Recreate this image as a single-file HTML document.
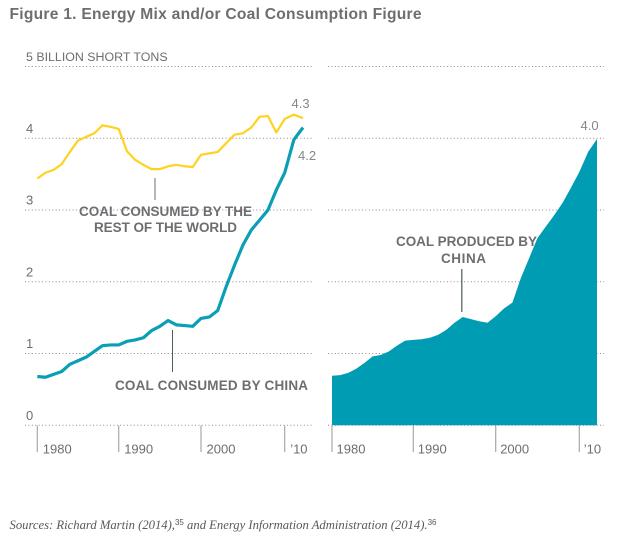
<!DOCTYPE html>
<html lang="en">
<head>
<meta charset="utf-8">
<title>Figure 1. Energy Mix and/or Coal Consumption Figure</title>
<style>
html,body{margin:0;padding:0;background:#fff;}
body{width:618px;height:540px;overflow:hidden;}
svg{display:block;font-family:"Liberation Sans",sans-serif;}
</style>
</head>
<body>
<svg id="chart" width="618" height="540" viewBox="0 0 618 540" xmlns="http://www.w3.org/2000/svg">
  <text x="9.5" y="19" font-size="15.6" font-weight="700" fill="#6d6e71" textLength="412" lengthAdjust="spacing">Figure 1. Energy Mix and/or Coal Consumption Figure</text>
  <g id="grid"></g>
  <g id="right-panel"></g>
  <g id="left-panel"></g>
  <g id="ticks"></g>
  <g id="y-labels"></g>

  <line x1="155" y1="178" x2="155" y2="200" stroke="#6a7274" stroke-width="1"/>
  <line x1="172.5" y1="330" x2="172.5" y2="372" stroke="#4f5c60" stroke-width="1"/>
  <line x1="461.8" y1="269" x2="461.8" y2="312" stroke="#4f5c60" stroke-width="1.2"/>

  <g font-size="13.5" font-weight="700" fill="#6d6e71">
    <text x="79" y="216" textLength="173" lengthAdjust="spacing">COAL CONSUMED BY THE</text>
    <text x="94" y="232" textLength="143" lengthAdjust="spacing">REST OF THE WORLD</text>
    <text x="115" y="390" textLength="193" lengthAdjust="spacing">COAL CONSUMED BY CHINA</text>
    <text x="396" y="246" textLength="141" lengthAdjust="spacing">COAL PRODUCED BY</text>
    <text x="441" y="263" textLength="45" lengthAdjust="spacing">CHINA</text>
  </g>

  <g font-size="13" fill="#858688">
    <text x="291.5" y="108">4.3</text>
    <text x="298" y="160">4.2</text>
    <text x="580.5" y="130">4.0</text>
  </g>

  <text x="9.5" y="529" font-family="'Liberation Serif',serif" font-style="italic" font-size="12.65" fill="#58595b">Sources: Richard Martin (2014),<tspan font-family="'Liberation Sans',sans-serif" font-style="normal" font-size="8" dy="-4">35</tspan><tspan dy="4"> and Energy Information Administration (2014).</tspan><tspan font-family="'Liberation Sans',sans-serif" font-style="normal" font-size="8" dy="-4">36</tspan></text>
</svg>

<script>
const years = [1980,1981,1982,1983,1984,1985,1986,1987,1988,1989,1990,1991,1992,1993,1994,1995,1996,1997,1998,1999,2000,2001,2002,2003,2004,2005,2006,2007,2008,2009,2010,2011,2012];
const restOfWorldConsumed = [3.44,3.52,3.56,3.64,3.81,3.97,4.02,4.07,4.18,4.16,4.13,3.82,3.70,3.63,3.57,3.57,3.61,3.63,3.61,3.60,3.77,3.79,3.81,3.93,4.05,4.07,4.15,4.30,4.31,4.08,4.27,4.33,4.28];
const chinaConsumed = [0.68,0.67,0.71,0.75,0.85,0.90,0.95,1.03,1.11,1.12,1.12,1.17,1.19,1.22,1.32,1.38,1.46,1.40,1.39,1.38,1.49,1.51,1.60,1.93,2.23,2.51,2.72,2.86,3.00,3.28,3.52,3.98,4.15];
const chinaProduced = [0.69,0.70,0.73,0.79,0.87,0.96,0.98,1.03,1.11,1.18,1.19,1.20,1.22,1.26,1.33,1.43,1.51,1.48,1.45,1.43,1.52,1.63,1.71,2.05,2.33,2.61,2.77,2.93,3.10,3.31,3.53,3.81,3.99];
const yTicks = [0,1,2,3,4,5];
const yTickLabels = ["0","1","2","3","4","5 BILLION SHORT TONS"];
const xTicks = [1980,1990,2000,2010];
const xTickLabels = ["1980","1990","2000","\u201910"];

const SVG_NS = "http://www.w3.org/2000/svg";
const yScale = function (v) { return 425.3 - 71.75 * v; };
function piecewise(domain, range) {
  return function (val) {
    let i = 0;
    while (i < domain.length - 2 && val > domain[i + 1]) { i++; }
    return range[i] + (val - domain[i]) * (range[i + 1] - range[i]) / (domain[i + 1] - domain[i]);
  };
}
const xLeft = piecewise([1980, 1990, 2000, 2010, 2012], [37.3, 118.7, 201, 284.7, 303]);
const xRight = piecewise([1980, 1990, 2000, 2010, 2012], [332, 413.3, 495.7, 579.3, 597]);

function make(tag, attrs, parent) {
  const node = document.createElementNS(SVG_NS, tag);
  Object.keys(attrs).forEach(function (k) { node.setAttribute(k, attrs[k]); });
  parent.appendChild(node);
  return node;
}
function linePoints(xFn, values) {
  return values.map(function (v, i) { return xFn(years[i]).toFixed(2) + "," + yScale(v).toFixed(2); }).join(" ");
}

const gridGroup = document.getElementById("grid");
const tickGroup = document.getElementById("ticks");
const yLabelGroup = document.getElementById("y-labels");
const leftGroup = document.getElementById("left-panel");
const rightGroup = document.getElementById("right-panel");

yTicks.forEach(function (t, i) {
  const yPos = yScale(t);
  const a = make("line", {x1: 25, x2: 313, y1: yPos, y2: yPos, stroke: "#8a8b8d", "stroke-width": 1, "stroke-dasharray": "1 2.4"}, gridGroup);
  
  
  const b = make("line", {x1: 328, x2: 604, y1: yPos, y2: yPos, stroke: "#8a8b8d", "stroke-width": 1, "stroke-dasharray": "1 2.4"}, gridGroup);
  
  
  const label = make("text", {x: 26, y: yPos - 5.5, "font-size": 13, fill: "#6d6e71"}, yLabelGroup);
  label.textContent = yTickLabels[i];
  if (yTickLabels[i].length > 2) {
    label.setAttribute("font-size", "12.4");
  }
  
  
});

const area = make("polygon", {
  points: xRight(years[0]).toFixed(2) + "," + yScale(0) + " " + linePoints(xRight, chinaProduced) + " " + xRight(years[years.length - 1]).toFixed(2) + "," + yScale(0),
  fill: "#009cb4"
}, rightGroup);



const yellow = make("polyline", {points: linePoints(xLeft, restOfWorldConsumed), fill: "none", stroke: "#ffd21f", "stroke-width": 2.2, "stroke-linejoin": "round"}, leftGroup);



const teal = make("polyline", {points: linePoints(xLeft, chinaConsumed), fill: "none", stroke: "#0a9fb5", "stroke-width": 3.2, "stroke-linejoin": "round"}, leftGroup);



xTicks.forEach(function (t, i) {
  [xLeft, xRight].forEach(function (xFn) {
    const xPos = xFn(t);
    const labelOffset = xFn === xLeft ? 5.5 : 4.5;
    const tick = make("line", {x1: xPos, x2: xPos, y1: 425.5, y2: 452, stroke: "#a7a8aa", "stroke-width": 1.2}, tickGroup);
    
    
    const lab = make("text", {x: xPos + labelOffset, y: 453.5, "font-size": 13, fill: "#6d6e71"}, tickGroup);
    lab.textContent = xTickLabels[i];
    
    
  });
});
</script>
</body>
</html>
